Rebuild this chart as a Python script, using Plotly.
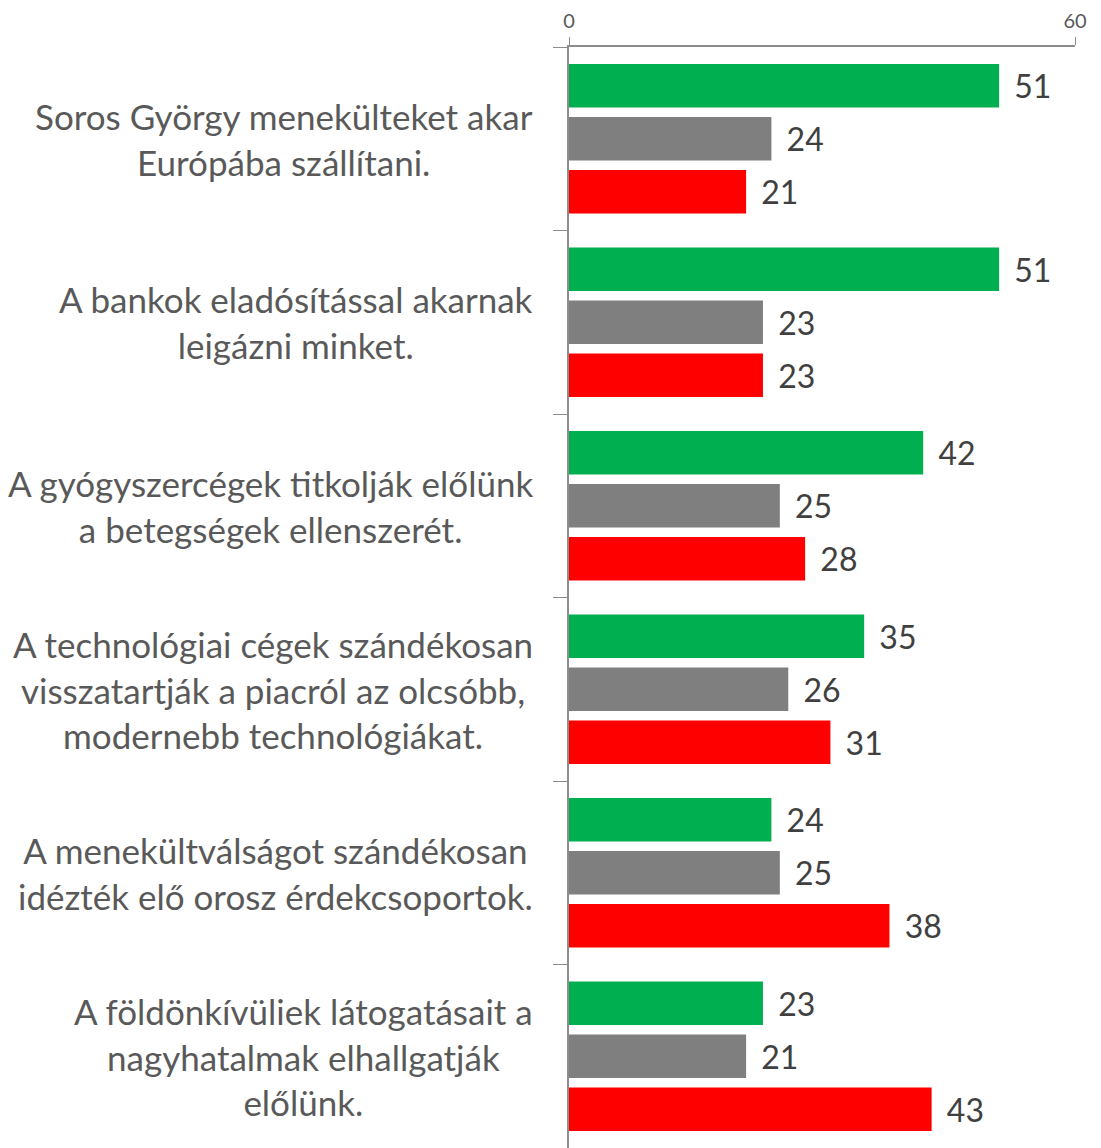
import plotly.graph_objects as go

categories = [
    "Soros György menekülteket akar<br>Európába szállítani.",
    "A bankok eladósítással akarnak<br>leigázni minket.",
    "A gyógyszercégek titkolják előlünk<br>a betegségek ellenszerét.",
    "A technológiai cégek szándékosan<br>visszatartják a piacról az olcsóbb,<br>modernebb technológiákat.",
    "A menekültválságot szándékosan<br>idézték elő orosz érdekcsoportok.",
    "A földönkívüliek látogatásait a<br>nagyhatalmak elhallgatják<br>előlünk.",
]
cat_ids = ["c%d" % i for i in range(len(categories))]
green_vals = [51, 51, 42, 35, 24, 23]
gray_vals = [24, 23, 25, 26, 25, 21]
red_vals = [21, 23, 28, 31, 38, 43]
x_tickvals = [0, 60]

FONT = "Lato"
series = [("green", green_vals, "#00B050"), ("gray", gray_vals, "#7F7F7F"), ("red", red_vals, "#FF0000")]

fig = go.Figure()
for name, vals, col in series:
    fig.add_trace(go.Bar(
        y=cat_ids, x=vals, orientation="h", name=name,
        marker=dict(color=col, line=dict(width=0)),
        text=["\u00a0\u2009" + str(v) for v in vals],
        textposition="outside", cliponaxis=False,
        textfont=dict(family=FONT, size=32, color="#404040"),
        showlegend=False,
    ))

for cid, label in zip(cat_ids, categories):
    fig.add_annotation(
        xref="paper", yref="y", x=0, y=cid, xanchor="right", yanchor="middle",
        xshift=-34, text=label, align="center", showarrow=False,
        font=dict(family=FONT, size=35, color="#595959"),
    )

fig.update_layout(
    width=1093, height=1140,
    margin=dict(l=561, r=26, t=39, b=0, autoexpand=False),
    paper_bgcolor="white", plot_bgcolor="white",
    barmode="group", bargap=0.134, bargroupgap=0.18,
    xaxis=dict(side="top", range=[0, 60], tickvals=x_tickvals, ticks="outside", ticklen=8,
               tickcolor="#8C8C8C", showline=True, linecolor="#8C8C8C", linewidth=2,
               showgrid=False, zeroline=False, automargin=False, ticklabelstandoff=1,
               tickfont=dict(family=FONT, size=20, color="#595959")),
    yaxis=dict(type="category", autorange="reversed", showticklabels=False,
               tickson="boundaries", ticks="outside", ticklen=14, tickcolor="#8C8C8C",
               showline=True, linecolor="#8C8C8C", linewidth=2, showgrid=False, automargin=False),
)

fig.write_html("out.html")
